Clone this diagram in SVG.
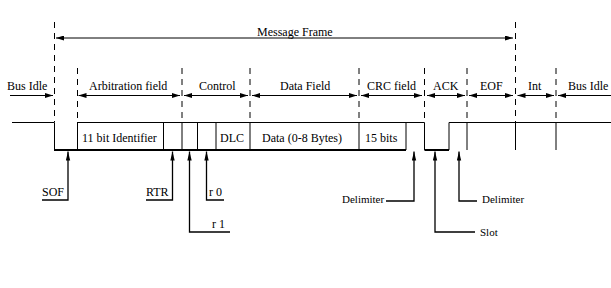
<svg xmlns="http://www.w3.org/2000/svg" width="611" height="288" viewBox="0 0 611 288">
<style>
text{font-family:"Liberation Serif","Times New Roman",serif;font-size:12px;fill:#000}
.sm{font-size:11px}
.dash{stroke:#000;stroke-width:1;stroke-dasharray:6 5;fill:none}
.ln{stroke:#000;stroke-width:1;fill:none}
.thick{stroke:#000;stroke-width:2;fill:none}
.arr{stroke:#000;stroke-width:1;fill:none}
.ptr{stroke:#000;stroke-width:1.3;fill:none;marker-end:url(#ph)}
.both{marker-start:url(#ah);marker-end:url(#ah)}
</style>
<defs>
<marker id="ah" viewBox="0 0 8 5" refX="8" refY="2.5" markerWidth="8" markerHeight="5" markerUnits="userSpaceOnUse" orient="auto-start-reverse">
<path d="M0,0 L8,2.5 L0,5 z" fill="#000"/>
</marker>
<marker id="ph" viewBox="0 0 9 5" refX="9" refY="2.5" markerWidth="9" markerHeight="5" markerUnits="userSpaceOnUse" orient="auto">
<path d="M0,0.3 L9,2.5 L0,4.7 z" fill="#000"/>
</marker>
</defs>
<rect width="611" height="288" fill="#fff"/>

<g id="boundaries">
<path class="dash" d="M54.5 22V122 M515.5 22V122 M77.5 68V122 M182 68V122 M250 68V122 M359 68V122 M424.5 68V122 M467 68V122 M556 68V122"/>
</g>

<g id="waveform">
<path class="ln" d="M12 122.5H54.5V150"/>
<path class="thick" d="M54 150H406 M424.5 150H449"/>
<path class="ln" d="M77 122.5H424.5V150 M449 150V122.5H611"/>
<path class="ln" d="M77.5 122.5V150 M163.5 122.5V150 M182 122.5V150 M197.5 122.5V150 M216 122.5V150 M250 122.5V150 M359 122.5V150 M406 122.5V150 M467 122.5V150 M515.5 122.5V150 M556 122.5V150"/>
</g>

<g id="frame-label"><text x="257" y="36">Message Frame</text></g>
<g id="field-bus-idle-1"><text x="7" y="90">Bus Idle</text></g>
<g id="field-arbitration"><text x="89" y="90">Arbitration field</text></g>
<g id="field-control"><text x="199" y="90">Control</text></g>
<g id="field-data"><text x="280" y="90">Data Field</text></g>
<g id="field-crc"><text x="367" y="90">CRC field</text></g>
<g id="field-ack"><text x="433" y="90">ACK</text></g>
<g id="field-eof"><text x="480" y="90">EOF</text></g>
<g id="field-int"><text x="528" y="90">Int</text></g>
<g id="field-bus-idle-2"><text x="568" y="90">Bus Idle</text></g>

<g id="box-identifier"><text x="82" y="142">11 bit Identifier</text></g>
<g id="box-dlc"><text x="220" y="142">DLC</text></g>
<g id="box-data"><text x="262" y="142">Data (0-8 Bytes)</text></g>
<g id="box-crc"><text x="365" y="142">15 bits</text></g>

<g id="label-sof"><text x="42" y="196">SOF</text></g>
<g id="label-rtr"><text x="146" y="196">RTR</text></g>
<g id="label-r0"><text x="209" y="196">r 0</text></g>
<g id="label-r1"><text x="212" y="228">r 1</text></g>
<g id="label-delimiter-1"><text class="sm" x="342" y="203">Delimiter</text></g>
<g id="label-slot"><text class="sm" x="480" y="236">Slot</text></g>
<g id="label-delimiter-2"><text class="sm" x="482" y="203">Delimiter</text></g>

<g id="connectors">
<path class="arr both" d="M56 38H513"/>
<path class="arr" d="M10 95.5H53" marker-end="url(#ah)"/>
<path class="arr both" d="M78.5 95.5H180"/>
<path class="arr both" d="M184 95.5H248"/>
<path class="arr both" d="M252 95.5H357"/>
<path class="arr both" d="M361 95.5H422"/>
<path class="arr both" d="M427 95.5H465"/>
<path class="arr both" d="M469 95.5H513"/>
<path class="arr both" d="M517.5 95.5H554"/>
<path class="arr" d="M558 95.5H611" marker-start="url(#ah)"/>
<path class="ptr" d="M42 200H68V151.5"/>
<path class="ptr" d="M146 200H172.5V151.5"/>
<path class="ptr" d="M224 200H206.5V151.5"/>
<path class="ptr" d="M230 232H189.5V151.5"/>
<path class="ptr" d="M386 201H414V151.5"/>
<path class="ptr" d="M475 232H435V151.5"/>
<path class="ptr" d="M477 201H459V151.5"/>
</g>
</svg>
